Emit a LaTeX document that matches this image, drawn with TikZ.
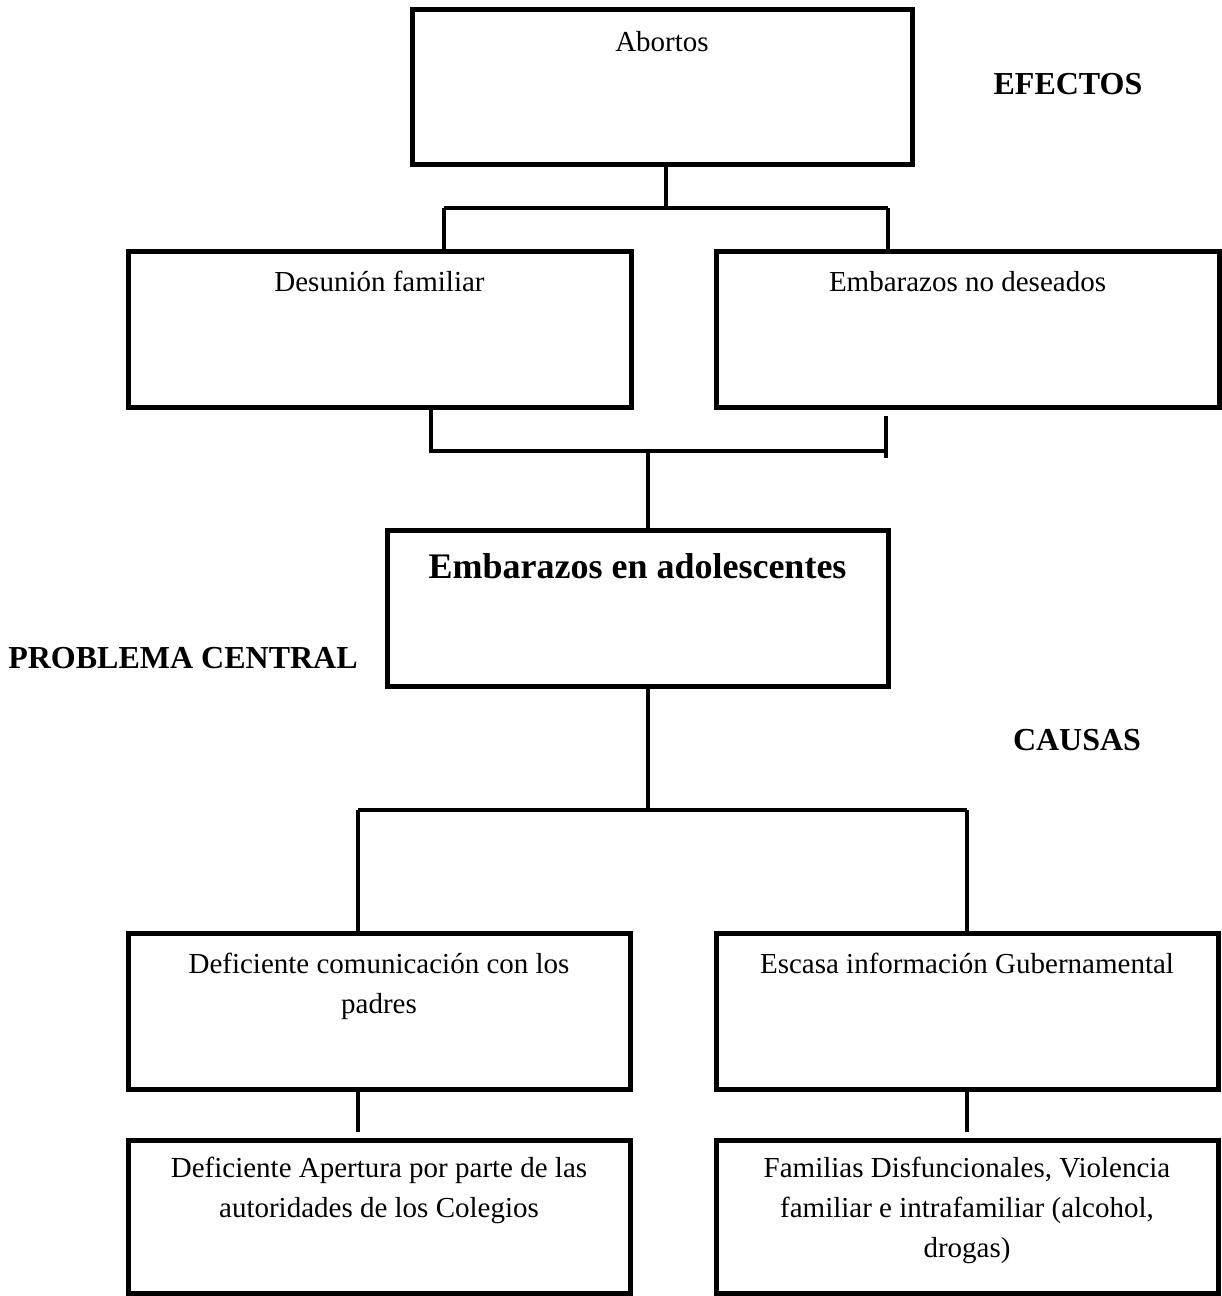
\documentclass[tikz,border=0pt]{standalone}
\usepackage{fontspec}
\setmainfont{Liberation Serif}
\begin{document}
\begin{tikzpicture}[x=0.6pt,y=-0.6pt,
  box/.style={draw=black,line width=3pt,rectangle,inner sep=0pt,minimum width=#1*0.6pt},
  box/.default=502,
  conn/.style={draw=black,line width=2.4pt},
  txt/.style={font=\fontsize{17.4pt}{24pt}\selectfont,align=center,inner sep=0pt,anchor=base},
  ttl/.style={font=\fontsize{21.6pt}{26pt}\selectfont\bfseries,inner sep=0pt,anchor=base},
  lbl/.style={font=\fontsize{19.2pt}{23pt}\selectfont\bfseries,inner sep=0pt,anchor=base}]
\useasboundingbox (0,0) rectangle (1221,1296);
\fill[white] (0,0) rectangle (1221,1296);

% boxes
\node[box=500,minimum height=155*0.6pt] (abortos) at (662,87.5) {};
\node[box=503,minimum height=155*0.6pt] (desunion) at (379.5,329.5) {};
\node[box=503,minimum height=155*0.6pt] (nodeseados) at (967.5,329.5) {};
\node[box=501,minimum height=156*0.6pt] (central) at (637.5,608) {};
\node[box=502,minimum height=156*0.6pt] (comunic) at (379,1011) {};
\node[box=502,minimum height=156*0.6pt] (escasa) at (967,1011) {};
\node[box=502,minimum height=153*0.6pt] (apertura) at (379,1216.5) {};
\node[box=502,minimum height=153*0.6pt] (familias) at (967,1216.5) {};

% texts (base anchor = baseline of the last line)
\node[txt] (tabortos) at (662,52) {Abortos};
\node[txt] (tdesunion) at (379.5,292) {Desunión familiar};
\node[txt] (tnodeseados) at (967.5,292) {Embarazos no deseados};
\node[ttl] (tcentral) at (637.5,578) {Embarazos en adolescentes};
\node[txt] (tcomunic) at (379,1013) {Deficiente comunicación con los\\padres};
\node[txt] (tescasa) at (967,973) {Escasa información Gubernamental};
\node[txt] (tapertura) at (379,1217) {Deficiente Apertura por parte de las\\autoridades de los Colegios};
\node[txt] (tfamilias) at (967,1257) {Familias Disfuncionales, Violencia\\familiar e intrafamiliar (alcohol,\\drogas)};

% side labels
\node[lbl] (efectos) at (1068,95) {EFECTOS};
\node[lbl] (problema) at (183,668) {PROBLEMA CENTRAL};
\node[lbl] (causas) at (1077,750) {CAUSAS};

% junction coordinates
\coordinate (ja) at (666,208);
\coordinate (jal) at (444,208);
\coordinate (jar) at (888,208);
\coordinate (jbl) at (431,451);
\coordinate (jbr) at (886,451);
\coordinate (jbrtop) at (886,416);
\coordinate (jbrbot) at (886,458);
\coordinate (jbc) at (648,451);
\coordinate (jc) at (648,810);
\coordinate (jcl) at (358,810);
\coordinate (jcr) at (967,810);
\coordinate (jdl) at (358,1132);
\coordinate (jdr) at (967,1132);

% effects connectors
\draw[conn] (abortos.south -| ja) -- (ja);
\draw[conn] (jal) -- (jar);
\draw[conn] (jal) -- (jal |- desunion.north);
\draw[conn] (jar) -- (jar |- nodeseados.north);
\draw[conn] (desunion.south -| jbl) -- (jbl) -- (jbr);
\draw[conn] (jbrtop) -- (jbrbot);
\draw[conn] (jbc) -- (jbc |- central.north);

% causes connectors
\draw[conn] (central.south -| jc) -- (jc);
\draw[conn] (jcl) -- (jcr);
\draw[conn] (jcl) -- (jcl |- comunic.north);
\draw[conn] (jcr) -- (jcr |- escasa.north);
\draw[conn] (comunic.south -| jdl) -- (jdl);
\draw[conn] (escasa.south -| jdr) -- (jdr);
\end{tikzpicture}
\end{document}
